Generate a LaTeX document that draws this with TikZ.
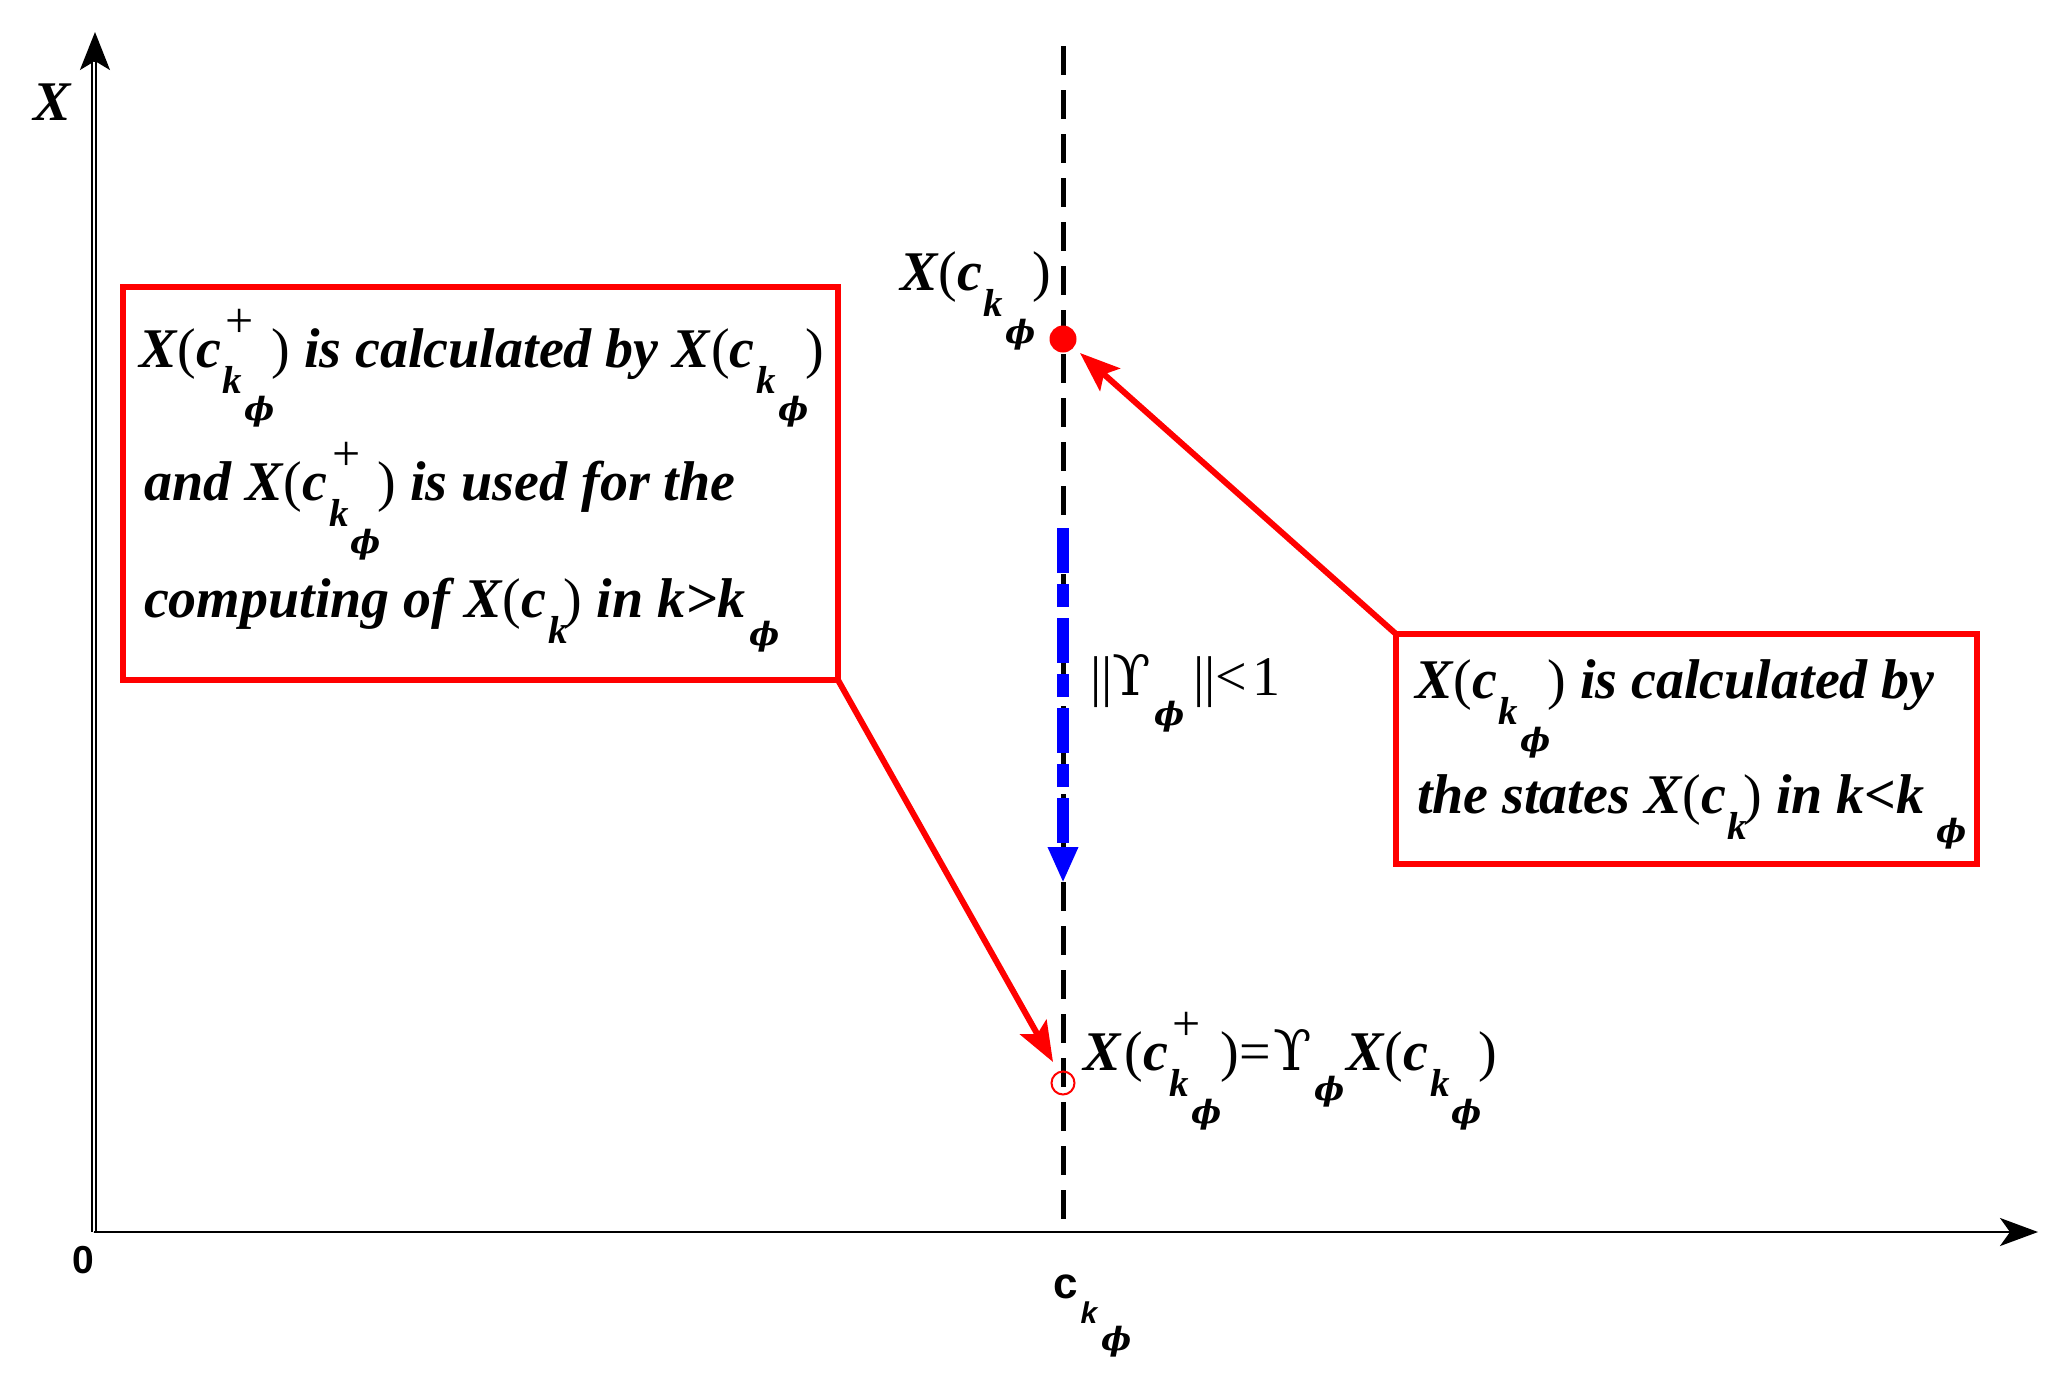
\documentclass[tikz,border=0pt]{standalone}
\usepackage{fontspec}
\setmainfont{Liberation Serif}
\newfontfamily\sansb{Liberation Sans}
\newfontfamily\dvs{DejaVu Serif}
\usetikzlibrary{arrows.meta,calc}

\newcommand\fbig{\fontsize{56}{60}\selectfont}
\newcommand\fsm{\fontsize{39}{40}\selectfont}
\newcommand\lp{{\mdseries\upshape(}}
\newcommand\rp{{\mdseries\upshape)}}
\newcommand\supp{\rlap{\kern3pt\raisebox{30pt}{\fontsize{50}{50}\selectfont\mdseries\upshape +}}}
\newcommand\sk{\raisebox{-26pt}{\fsm k}}
\newcommand\sphi[1]{\raisebox{-#1}{\fontsize{32}{34}\selectfont\dvs\bfseries\itshape ϕ}}
\newcommand\Xck{X\kern1pt\lp c\kern2pt\sk\kern2pt\sphi{53pt}\kern-3pt\rp}
\newcommand\Xckp{X\kern1pt\lp c\kern2pt\supp\sk\kern2pt\sphi{53pt}\kern-3pt\rp}
\newcommand\Xcsk{X\kern1pt\lp c\kern2pt\sk\kern-4pt\rp}
\newcommand\Ups{{\dvs\mdseries\upshape ϒ}}

\begin{document}
\begin{tikzpicture}[x=1pt,y=-1pt,
  txt/.style={anchor=base west, inner sep=0pt, outer sep=0pt, font=\fbig\bfseries\itshape},
  plain/.style={anchor=base west, inner sep=0pt, outer sep=0pt, font=\fbig\mdseries\upshape},
  redbox/.style={draw=red, line width=6.5pt, inner sep=0pt, outer sep=0pt},
  redarrow/.style={draw=red, line width=6pt, -{Stealth[length=40pt,width=30pt,inset=8pt]}},
  axisline/.style={line width=2.5pt},
  dashline/.style={line width=5pt, dash pattern=on 29pt off 15pt},
  bluearrow/.style={draw={rgb,255:red,0;green,0;blue,255}, line width=12pt,
     dash pattern=on 45pt off 11pt on 23pt off 11pt, -{Triangle[length=36pt,width=28pt]}}
]
\useasboundingbox (0,0) rectangle (2069,1393);

% axes
\coordinate (O) at (94,1232);
\coordinate (ytip) at (95,32);
\coordinate (ybase) at (94,62);
\coordinate (xtip) at (2038,1232);
\draw[line width=2pt, -{Stealth[length=38pt,width=30pt,inset=9pt]}] (O) -- (ytip);
\draw[line width=2pt, double=white, double distance=2pt] (O) -- (ybase);
\draw[axisline, -{Stealth[length=38pt,width=28pt,inset=10pt]}] (O) -- (xtip);

% dashed vertical line
\coordinate (dtop) at (1063,46);
\coordinate (dbot) at (1063,1232);
\draw[dashline] (dtop) -- (dbot);

% blue arrow
\coordinate (b1) at (1063,528);
\coordinate (b2) at (1063,883);
\draw[bluearrow] (b1) -- (b2);

% points
\node[circle, fill=red, minimum size=27pt, inner sep=0pt] (dot) at (1063,339) {};
\node[circle, draw=red, line width=2pt, minimum size=23pt, inner sep=0pt] (hole) at (1063,1083) {};

% boxes
\node[redbox, minimum width=715pt, minimum height=393pt] (lbox) at (480.5,483.5) {};
\node[redbox, minimum width=581pt, minimum height=230pt] (rbox) at (1686.5,749) {};

% red arrows
\coordinate (t1) at (1053,1062);
\coordinate (t2) at (1080,353);
\draw[redarrow] (lbox.south east) -- (t1);
\draw[redarrow] (rbox.north west) -- (t2);

% left box text
\node[txt] (l1) at (139,367) {\Xckp{} is calculated by \Xck};
\node[txt] (l2) at (144,500) {and \Xckp{} is used for the};
\node[txt] (l3) at (144,617) {computing of \Xcsk{} in k>k\kern4pt\sphi{28pt}};

% right box text
\node[txt] (r1) at (1415,698) {\Xck{} is calculated by};
\node[txt] (r2) at (1417,813) {the states \Xcsk{} in k<k\kern12pt\sphi{29pt}};

% point labels
\node[txt] (dotlab) at (900,290) {\Xck};
\node[txt] (holelab) at (1083,1070) {X\kern4pt\lp c\kern2pt\supp\sk\kern2pt\sphi{53pt}\kern-1pt\rp{\mdseries\upshape =}\kern3pt\Ups\kern2pt\sphi{30pt}\kern2pt\Xck};
\node[plain] (normlab) at (1090,695) {||\Ups\kern4pt\sphi{30pt}\kern8pt||<\kern6pt1};

% axis labels
\node[txt] (xlab) at (33,120) {X};
\node[anchor=base west, inner sep=0pt, font=\sansb\bfseries\fontsize{39}{40}\selectfont] (zero) at (72,1273) {0};
\node[anchor=base west, inner sep=0pt, font=\sansb\bfseries\fontsize{44}{48}\selectfont] (cklab) at (1053,1298)
  {c\kern3pt\raisebox{-25pt}{\itshape\fontsize{30}{30}\selectfont k}\kern4pt\raisebox{-52pt}{\fontsize{32}{34}\selectfont\dvs\bfseries\itshape ϕ}};
\end{tikzpicture}
\end{document}
